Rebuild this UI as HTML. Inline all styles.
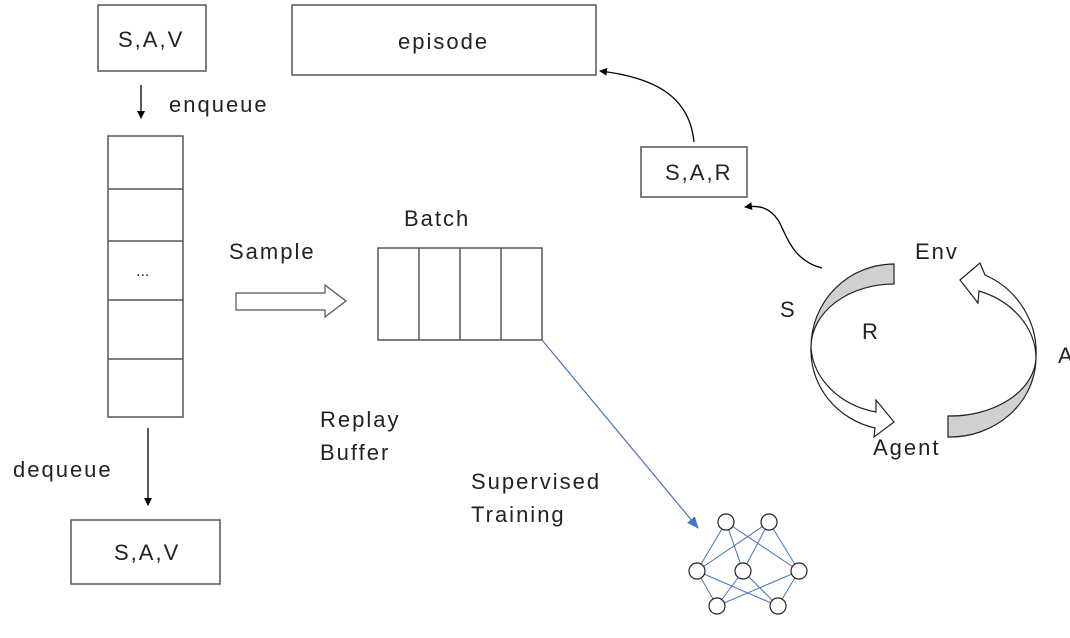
<!DOCTYPE html>
<html><head><style>
body{margin:0;background:#fff;width:1070px;height:633px;overflow:hidden}
svg text{font-family:"Liberation Sans",sans-serif;font-size:22px;letter-spacing:2px;fill:#222}
</style></head><body>
<svg width="1070" height="633" viewBox="0 0 1070 633">
<defs>
<marker id="ah" markerWidth="8" markerHeight="8" refX="7" refY="4" orient="auto" markerUnits="userSpaceOnUse"><path d="M0,0L8,4L0,8z" fill="#000"/></marker>
<marker id="bh" markerWidth="12" markerHeight="10" refX="11" refY="5" orient="auto" markerUnits="userSpaceOnUse"><path d="M0,0L12,5L0,10z" fill="#4472c4"/></marker>
</defs>
<g fill="none" stroke="#555" stroke-width="1.5">
<rect x="98" y="5" width="108" height="66"/>
<rect x="292" y="5" width="304" height="70"/>
<rect x="641" y="147" width="106" height="50"/>
<rect x="108" y="136" width="75" height="281"/>
<line x1="108" y1="189" x2="183" y2="189"/><line x1="108" y1="241" x2="183" y2="241"/>
<line x1="108" y1="300" x2="183" y2="300"/><line x1="108" y1="359" x2="183" y2="359"/>
<rect x="378" y="248" width="164" height="92"/>
<line x1="419" y1="248" x2="419" y2="340"/><line x1="460" y1="248" x2="460" y2="340"/><line x1="501" y1="248" x2="501" y2="340"/>
<rect x="71" y="520" width="149" height="64"/>
</g>
<text x="118" y="47">S,A,V</text>
<text x="398" y="49">episode</text>
<text x="665" y="180">S,A,R</text>
<text x="136" y="276" style="font-size:16px;letter-spacing:0">...</text>
<text x="114" y="560">S,A,V</text>
<text x="169" y="112">enqueue</text>
<text x="13" y="477">dequeue</text>
<text x="229" y="259">Sample</text>
<text x="404" y="226">Batch</text>
<text x="320" y="427">Replay</text>
<text x="320" y="460">Buffer</text>
<text x="471" y="489">Supervised</text>
<text x="471" y="522">Training</text>
<text x="915" y="259">Env</text>
<text x="780" y="317">S</text>
<text x="862" y="339">R</text>
<text x="1058" y="363">A</text>
<text x="873" y="455">Agent</text>
<g stroke="#000" stroke-width="1.3" fill="none">
<line x1="141" y1="85" x2="141" y2="118" marker-end="url(#ah)"/>
<line x1="148" y1="428" x2="148" y2="505" marker-end="url(#ah)"/>
<path d="M694,142 C690,100 660,78 600,71" marker-end="url(#ah)"/>
<path d="M822,268 C790,260 785,230 778,220 C770,208 760,205 745,207" marker-end="url(#ah)"/>
</g>
<path d="M236,293 H325 V285 L346,301 L325,317 V310 H236Z" fill="#fff" stroke="#555" stroke-width="1.2"/>
<line x1="542" y1="340" x2="698" y2="528" stroke="#4472c4" stroke-width="1.2" marker-end="url(#bh)"/>
<g stroke="#4472c4" stroke-width="1">
<path d="M726,522L697,571M726,522L743,571M726,522L799,571M769,522L697,571M769,522L743,571M769,522L799,571M697,571L717,606M697,571L778,606M743,571L717,606M743,571L778,606M799,571L717,606M799,571L778,606"/>
</g>
<g fill="#fff" stroke="#222" stroke-width="1.2">
<circle cx="726" cy="522" r="8"/><circle cx="769" cy="522" r="8"/>
<circle cx="697" cy="571" r="8"/><circle cx="743" cy="571" r="8"/><circle cx="799" cy="571" r="8"/>
<circle cx="717" cy="606" r="8"/><circle cx="778" cy="606" r="8"/>
</g>
<g stroke="#222" stroke-width="1.2">
<path d="M894,264 A83,83 0 0 0 811,347 A83,63 0 0 1 894,284Z" fill="#d0d0d0"/>
<path d="M811,347 A83,80 0 0 0 875,428 L874,437 L894,422 L876,400 L876,412 A83,70 0 0 1 811,347Z" fill="#fff"/>
<path d="M948,437 A86,80 0 0 0 1036,358 A86,60 0 0 1 948,416Z" fill="#d0d0d0"/>
<path d="M1036,358 A86,85 0 0 0 985,275 L980,263 L960,280 L978,303 L979,291 A86,72 0 0 1 1036,358Z" fill="#fff"/>
</g>
</svg>
</body></html>
